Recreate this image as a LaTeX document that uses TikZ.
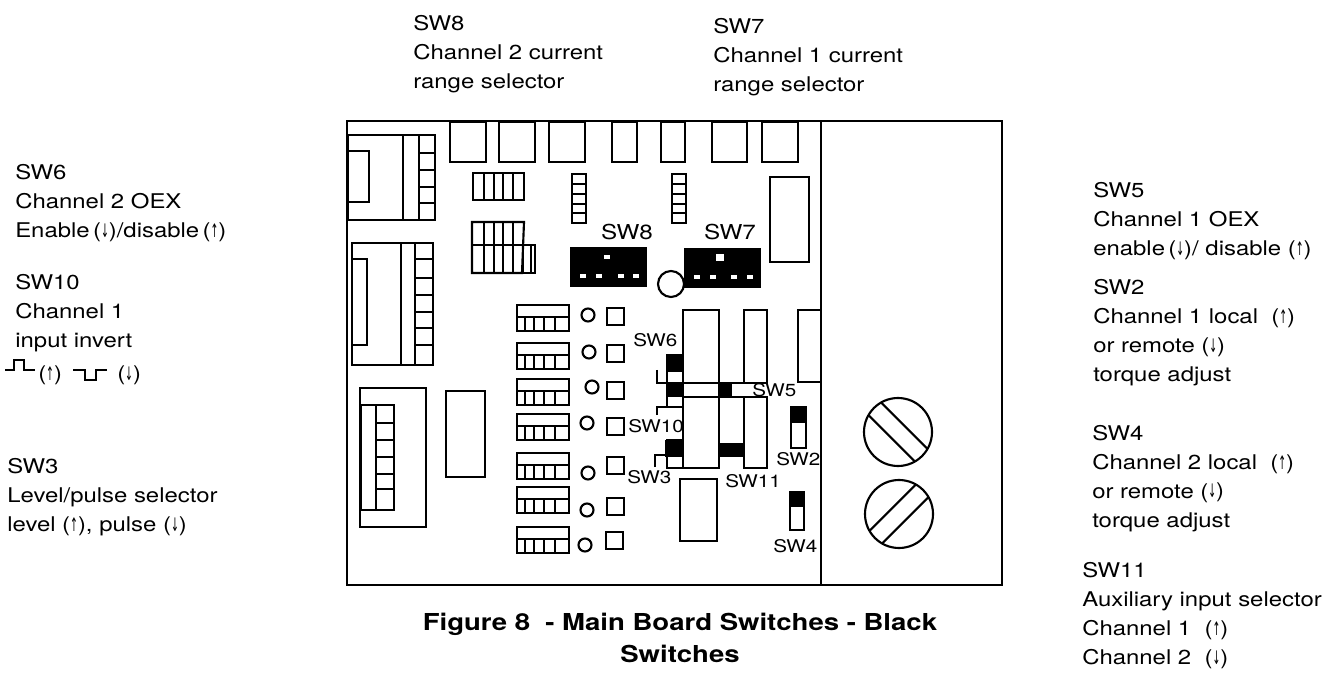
\documentclass[tikz,border=0pt]{standalone}
\usepackage{fontspec}
\usetikzlibrary{calc}
\setmainfont{TeX Gyre Heros}[FakeStretch=1.18]
\newfontfamily\arrfont{DejaVu Sans}[FakeStretch=0.5]
\newcommand\ua{{\arrfont\fontsize{14}{14}\selectfont ↑}}
\newcommand\da{{\arrfont\fontsize{14}{14}\selectfont ↓}}
\begin{document}
\begin{tikzpicture}[x=0.75pt,y=-0.75pt,
  brd/.style={line width=1.6pt},
  fin/.style={line width=1.1pt},
  lbl/.style={anchor=base west,inner sep=0pt,font=\fontsize{15.2}{21.75}\selectfont},
  swl/.style={anchor=base west,inner sep=0pt,font=\fontsize{13.1}{16}\selectfont},
  big/.style={anchor=base,inner sep=0pt,font=\fontsize{15.4}{21.75}\selectfont},
  ttl/.style={anchor=base,inner sep=0pt,font=\fontsize{17.5}{22}\selectfont\bfseries},
  pip/.style={fill=white,draw=black,line width=0.6pt}
]
\useasboundingbox (0,0) rectangle (1338,673);

% ---------- board outline ----------
\draw[brd] (347,121) rectangle (1002,585);
\draw[brd] (821,121) -- (821,585);

% top row of squares
\foreach \a/\b in {450/486,499/535,549/585,612/637,661/685,712/747,762/798}
  \draw[brd] (\a,122) rectangle (\b,162);

% top-left connector
\draw[brd] (348,135) rectangle (435,220);
\draw[brd] (348,151) rectangle (369,202);
\draw[brd] (403,135) -- (403,220);
\draw[brd] (419,135) -- (419,220);
\foreach \y in {153,170,187,203} \draw[brd] (419,\y) -- (435,\y);

% second left connector
\draw[brd] (352,243) rectangle (433,365);
\draw[brd] (352,259) rectangle (367,345);
\draw[brd] (401,243) -- (401,365);
\draw[brd] (415,243) -- (415,365);
\foreach \y in {259,278,295,312,328,345} \draw[brd] (415,\y) -- (433,\y);

% bottom left connector
\draw[brd] (360,388) rectangle (426,527);
\draw[brd] (361,405) rectangle (394,510);
\draw[brd] (376,405) -- (376,510);
\foreach \y in {423,440,457,474,489} \draw[brd] (376,\y) -- (394,\y);
\draw[brd] (446,391) rectangle (485,477);

% IIII blocks
\draw[brd] (473,173) rectangle (524,200);
\foreach \x in {484,494,503,513} \draw[brd] (\x,173) -- (\x,200);
\draw[brd] (472,222) -- (524,222) -- (522,273) -- (472,273) -- cycle;
\foreach \x in {484,494,503,513} \draw[brd] (\x,222) -- (\x,273);
\draw[brd] (523,245) rectangle (535,273);
\draw[brd] (531,245) -- (531,273);
\draw[brd] (472,245) -- (523,245);

% vertical strips
\foreach \sx in {572,672}{
  \draw[brd] (\sx,174) rectangle (\sx+14,223);
  \foreach \y in {184,194,204,213} \draw[brd] (\sx,\y) -- (\sx+14,\y);
}

% tall rect right
\draw[brd] (770,177) rectangle (809,262);

% SW8 / SW7 blocks
\node[big] (sw8lbl) at (627,240) {SW8};
\node[big] (sw7lbl) at (730,240) {SW7};
\fill (570,247) rectangle (647,287);
\fill (684,248) rectangle (761,288);
\foreach \x in {583,599,621,636} \draw[pip] (\x-3.5,273.5) rectangle (\x+3.5,278.5);
\draw[pip] (603.5,254.5) rectangle (610.5,259.5);
\foreach \x in {697,713,734,750} \draw[pip] (\x-3.5,274.5) rectangle (\x+3.5,279.5);
\fill[white] (716,254.5) rectangle (724,261.5);
\draw[brd] (671,284) circle (13);

% DIP rows, circles and small squares
\foreach \t in {305,343,379,414,453,487,527}{
  \draw[brd] (517,\t) rectangle (569,\t+26);
  \draw[brd] (517,\t+12) -- (569,\t+12);
  \foreach \x in {525,534,544,555} \draw[brd] (\x,\t+12) -- (\x,\t+26);
}
\foreach \cx/\cy in {588/315,589/352,592/387,587/423,588/473,587/510,585/545}
  \draw[brd] (\cx,\cy) circle (6.5);
\foreach \qx/\qy in {607/308,607/345,607/382,607/418,607/457,607/498,606/532}
  \draw[brd] (\qx,\qy) rectangle (\qx+17,\qy+17);

% central switch area
\draw[brd] (683,310) rectangle (719,383);
\draw[brd] (744,310) rectangle (767,383);
\draw[brd] (683,397) rectangle (719,468);
\draw[brd] (744,397) rectangle (767,468);
\draw[brd] (719,383) -- (744,383);
\draw[brd] (719,397) -- (744,397);
\draw[brd] (798,310) rectangle (821,382);
\draw[brd] (680,479) rectangle (717,541);
% SW6
\fill (667,355) rectangle (683,372);
\draw[brd] (667,355) rectangle (683,383);
% SW10
\fill (667,383) rectangle (683,397);
\draw[brd] (667,383) rectangle (683,407);
% SW3
\fill (665,440) rectangle (683,457);
\draw[brd] (667,440) rectangle (683,468);
% SW5, SW11
\fill (718,383) rectangle (732,397);
\fill (719,443) rectangle (744,457);
% SW2, SW4
\draw[brd] (791,407) rectangle (806,448);
\fill (791,407) rectangle (806,423);
\draw[brd] (790,492) rectangle (804,530);
\fill (790,492) rectangle (804,507);

% pointers
\draw[fin] (657,370) -- (657,383) -- (667,383);
\draw[fin] (657,415) -- (657,407) -- (667,407);
\draw[fin] (655,467) -- (655,455) -- (665,455);

% board labels
\node[swl] (l6) at (633,347) {SW6};
\node[swl] (l10) at (628,432) {SW10};
\node[swl] (l3) at (627,483) {SW3};
\node[swl] (l5) at (752,397) {SW5};
\node[swl] (l2) at (776,465) {SW2};
\node[swl] (l11) at (725,487) {SW11};
\node[swl] (l4) at (773,552) {SW4};

% screws
\coordinate (s1) at (898,432);
\coordinate (s2) at (899,514);
\draw[brd] (s1) circle (34);
\draw[brd] ($(s1)+(-29.5,-16.9)$) -- ($(s1)+(16.9,29.5)$);
\draw[brd] ($(s1)+(-16.9,-29.5)$) -- ($(s1)+(29.5,16.9)$);
\draw[brd] (s2) circle (34);
\draw[brd] ($(s2)+(-29.5,16.9)$) -- ($(s2)+(16.9,-29.5)$);
\draw[brd] ($(s2)+(-16.9,29.5)$) -- ($(s2)+(29.5,-16.9)$);

% ---------- texts ----------
\node[lbl] (t8) at (413,31) {\vtop{\hbox{SW8}\hbox{Channel 2 current}\hbox{range selector}}};
\node[lbl] (t7) at (713,34) {\vtop{\hbox{SW7}\hbox{Channel 1 current}\hbox{range selector}}};

\node[lbl] (t6) at (15,180) {\vtop{\hbox{SW6}\hbox{Channel 2 OEX}\hbox{Enable\,(\da)/disable\,(\ua)}}};
\node[lbl] (t10) at (15,290) {\vtop{\hbox{SW10}\hbox{Channel 1}\hbox{input invert}}};
\draw[fin] (5,370) -- (14,370) -- (14,360) -- (24,360) -- (24,370) -- (35,370);
\node[lbl] (p1) at (38,380) {(\ua)};
\draw[fin] (73,370) -- (85,370) -- (85,380) -- (96,380) -- (96,370) -- (107,370);
\node[lbl] (p2) at (117,380) {(\da)};
\node[lbl] (t3) at (7,473) {\vtop{\hbox{SW3}\hbox{Level/pulse selector}\hbox{level (\ua), pulse (\da)}}};

\node[lbl] (t5) at (1093,198) {\vtop{\hbox{SW5}\hbox{Channel 1 OEX}\hbox{enable\,(\da)/ disable (\ua)}}};
\node[lbl] (t2) at (1093,295) {\vtop{\hbox{SW2}\hbox{Channel 1 local\ \ (\ua)}\hbox{or remote (\da)}\hbox{torque adjust}}};
\node[lbl] (t4) at (1092,440) {\vtop{\hbox{SW4}\hbox{Channel 2 local\ \ (\ua)}\hbox{or remote (\da)}\hbox{torque adjust}}};
\node[lbl] (t11) at (1082,577) {\vtop{\hbox{SW11}\hbox{Auxiliary input selector}\hbox{Channel 1\ \ (\ua)}\hbox{Channel 2\ \ (\da)}}};

\node[ttl] (ti1) at (680,630) {Figure 8\ \ - Main Board Switches - Black};
\node[ttl] (ti2) at (680,662) {Switches};
\end{tikzpicture}
\end{document}
